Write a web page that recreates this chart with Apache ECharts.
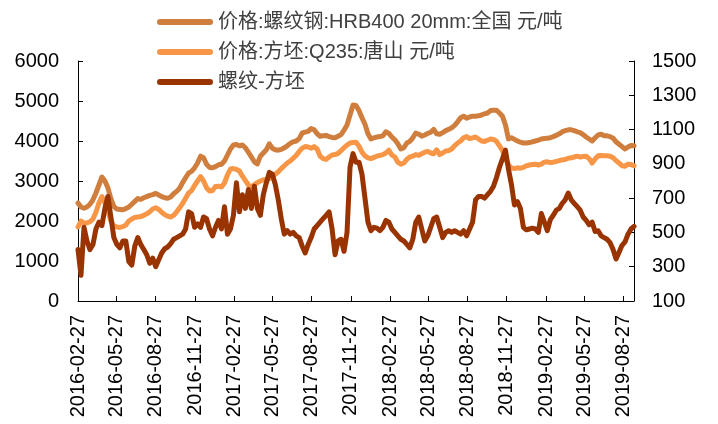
<!DOCTYPE html>
<html>
<head>
<meta charset="utf-8" />
<script src="https://cdn.jsdelivr.net/npm/echarts@6/dist/echarts.min.js"></script>
<style>
  html, body { margin: 0; padding: 0; background: #fff; }
  #chart { width: 718px; height: 424px; }
</style>
</head>
<body>
<div id="chart"></div>
<script>
// weekly samples, first one on START, one every 7 days
const START = '2016-02-27';
const END = '2019-09-21';

const tickLabels = [
  '2016-02-27', '2016-05-27', '2016-08-27', '2016-11-27',
  '2017-02-27', '2017-05-27', '2017-08-27', '2017-11-27',
  '2018-02-27', '2018-05-27', '2018-08-27', '2018-11-27',
  '2019-02-27', '2019-05-27', '2019-08-27'
];

const seriesNames = ['价格:螺纹钢:HRB400 20mm:全国 元/吨', '价格:方坯:Q235:唐山 元/吨', '螺纹-方坯'];

const rebar = [
  2450, 2350, 2320, 2350, 2420, 2530, 2700, 2900, 3100, 3000,
  2830, 2560, 2360, 2300, 2290, 2280, 2310, 2350, 2420, 2490,
  2560, 2540, 2580, 2610, 2640, 2660, 2690, 2650, 2610, 2580,
  2570, 2600, 2680, 2740, 2820, 2960, 3080, 3200, 3240, 3330,
  3450, 3620, 3580, 3420, 3340, 3330, 3360, 3405,
  3420, 3500, 3650, 3800, 3900, 3910, 3880, 3900, 3830, 3720,
  3600, 3480, 3430, 3620, 3700, 3780, 3930, 3820, 3780, 3770,
  3790, 3830, 3880, 3940, 3980, 4000, 4060, 4200, 4220, 4240,
  4310, 4280, 4180, 4120, 4130, 4140, 4110, 4090, 4080, 4120,
  4160, 4270, 4400, 4650, 4900, 4890,
  4760, 4580, 4420, 4180, 4050, 4080, 4100, 4110, 4130, 4230,
  4190, 4100, 4030, 3930, 3800, 3830, 3950, 3990, 4080, 4200,
  4170, 4120, 4150, 4190, 4220, 4290, 4180, 4170, 4210, 4260,
  4290, 4330, 4390, 4480, 4580, 4620, 4570, 4600, 4620, 4620,
  4630, 4650, 4680, 4700, 4760, 4770,
  4770, 4700, 4620, 4400, 4050, 4080, 4040, 4000, 3970, 3950,
  3950, 3960, 3980, 4000, 4020, 4050, 4060, 4070, 4080, 4110,
  4140, 4180, 4230, 4260, 4280, 4280, 4260, 4230, 4210, 4160,
  4100, 4050, 4000, 4080, 4150, 4170, 4130, 4130, 4110, 4070,
  3980, 3920, 3860, 3800, 3850, 3890, 3880
];

const billet = [
  1850, 2000, 1950, 1950, 1980, 2050, 2220, 2450, 2610, 2450,
  2250, 2000, 1880, 1850, 1840, 1860, 1900, 2000, 2050, 2090,
  2100, 2110, 2140, 2180, 2230, 2300, 2330, 2290, 2220, 2160,
  2120, 2100, 2140, 2230, 2330, 2440, 2570, 2700, 2760, 2890,
  3000, 3110, 3000, 2830, 2750, 2760, 2860, 2870,
  2850, 2950, 3150, 3300, 3310, 3290, 3250, 3120, 3010, 2900,
  2850, 2910, 2960, 3000, 3030, 3030, 3060, 3100, 3170, 3230,
  3310, 3380, 3450, 3500, 3570, 3640, 3740, 3820, 3860, 3850,
  3820, 3860, 3800, 3620, 3560, 3540, 3600, 3650, 3660, 3690,
  3760, 3830, 3900, 3950, 3960, 3970,
  3870, 3720, 3630, 3580, 3560, 3590, 3620, 3640, 3660, 3700,
  3770, 3650, 3600, 3470, 3420, 3450, 3540, 3600, 3620, 3660,
  3640, 3680, 3720, 3740, 3700, 3680, 3780, 3660, 3700, 3750,
  3760, 3800, 3880, 3950, 4000, 4080, 4110, 4060, 4080, 4100,
  4050, 4000, 3990, 4020, 4050, 4040,
  3990, 3880, 3760, 3560, 3400, 3330, 3310, 3330, 3320, 3340,
  3380, 3400, 3410, 3420, 3400, 3420, 3470, 3480, 3460, 3470,
  3490, 3510, 3530, 3540, 3570, 3580, 3600, 3620, 3600, 3610,
  3620, 3560, 3450, 3550, 3630, 3640, 3630, 3630, 3620, 3580,
  3510, 3450, 3380, 3370, 3420, 3410, 3380
];

const spread = [
  400, 250, 530, 450, 400, 430, 520, 560, 540, 640,
  710, 590, 470, 430, 410, 450, 450, 330, 310, 420,
  470, 430, 400, 370, 320, 350, 300, 340, 380, 405,
  415, 435, 460, 470, 480, 490, 520, 620, 610, 530,
  550, 530, 590, 580, 520, 480, 530, 570,
  520, 650, 490, 520, 600, 790, 620, 720, 640, 750,
  640, 770, 640, 600, 720, 790, 850, 840, 780, 690,
  580, 490, 510, 490, 500, 480, 470, 420, 380, 430,
  470, 520, 540, 560, 580, 600, 620, 520, 370, 450,
  460, 390, 500, 880, 960, 910,
  910, 840, 700, 560, 510, 530, 525, 510, 530, 570,
  560, 520, 500, 480, 460, 450, 430, 410, 460, 560,
  590, 520, 450, 480, 530, 580, 590, 530, 470, 500,
  510, 500, 510, 500, 490, 510, 480, 520, 560, 690,
  710, 710, 700, 720, 740, 770,
  820, 880, 930, 980, 870, 780, 660, 680, 640, 530,
  515, 520, 525, 520, 500, 610, 560, 510, 575, 600,
  630, 640, 670, 690, 730, 690, 670, 650, 630, 590,
  570, 545, 560, 505, 510, 480, 470, 460, 440, 400,
  345, 385, 425, 445, 490, 520, 535
];

const colors = ['#CF7E3E', '#F79646', '#993300'];

function fmt(d) {
  return d.toISOString().slice(0, 10);
}

// daily categories so the -27 ticks land on their own dates
const categories = [];
for (let d = new Date(START + 'T00:00:00Z'); fmt(d) <= END; d.setUTCDate(d.getUTCDate() + 1)) {
  categories.push(fmt(d));
}

const sampleDates = rebar.map((_, i) => {
  const d = new Date(START + 'T00:00:00Z');
  d.setUTCDate(d.getUTCDate() + 7 * i);
  return fmt(d);
});

const pair = arr => arr.map((v, i) => [sampleDates[i], v]);

const showTick = (idx, val) => tickLabels.indexOf(val) >= 0;

const axisFont = {
  color: '#000',
  fontSize: 20,
  fontFamily: 'Liberation Sans, Arial, sans-serif',
  formatter: v => String(v)
};

// thick line with round ends, like the excel legend key
const legendIcon = 'path://M3,0 L53,0 A3,3 0 0 1 53,6 L3,6 A3,3 0 0 1 3,0 Z';

const chart = echarts.init(document.getElementById('chart'), null, { renderer: 'canvas' });

const option = {
  animation: false,
  color: colors,
  legend: {
    orient: 'vertical',
    left: 157,
    top: 12,
    padding: 0,
    icon: legendIcon,
    itemWidth: 56,
    itemHeight: 6,
    itemGap: 10,
    textStyle: {
      fontSize: 20,
      lineHeight: 20,
      color: '#404040',
      fontFamily: 'Liberation Sans, Noto Sans CJK SC, sans-serif'
    },
    data: seriesNames
  },
  grid: {
    left: 78,
    right: 84,
    top: 61,
    bottom: 123
  },
  xAxis: {
    type: 'category',
    data: categories,
    boundaryGap: false,
    axisLine: { lineStyle: { color: '#000', width: 1 } },
    axisTick: { inside: true, length: 5, interval: showTick, lineStyle: { color: '#000' } },
    axisLabel: Object.assign({}, axisFont, { rotate: 90, margin: 14, interval: showTick, formatter: null }),
    splitLine: { show: false }
  },
  yAxis: [
    {
      type: 'value',
      min: 0,
      max: 6000,
      interval: 1000,
      axisLine: { show: true, lineStyle: { color: '#000', width: 1 } },
      axisTick: { show: true, inside: true, length: 5, lineStyle: { color: '#000' } },
      axisLabel: Object.assign({ margin: 19 }, axisFont),
      splitLine: { show: false }
    },
    {
      type: 'value',
      min: 100,
      max: 1500,
      interval: 200,
      position: 'right',
      axisLine: { show: true, lineStyle: { color: '#000', width: 1 } },
      axisTick: { show: true, inside: true, length: 5, lineStyle: { color: '#000' } },
      axisLabel: Object.assign({ margin: 18 }, axisFont),
      splitLine: { show: false }
    }
  ],
  series: [
    {
      name: seriesNames[0],
      type: 'line',
      yAxisIndex: 0,
      data: pair(rebar),
      symbol: 'none',
      lineStyle: { width: 5, cap: 'round', join: 'round' }
    },
    {
      name: seriesNames[1],
      type: 'line',
      yAxisIndex: 0,
      data: pair(billet),
      symbol: 'none',
      lineStyle: { width: 5, cap: 'round', join: 'round' }
    },
    {
      name: seriesNames[2],
      type: 'line',
      yAxisIndex: 1,
      data: pair(spread),
      symbol: 'none',
      lineStyle: { width: 5, cap: 'round', join: 'round' }
    }
  ]
};

chart.setOption(option);
</script>
</body>
</html>
